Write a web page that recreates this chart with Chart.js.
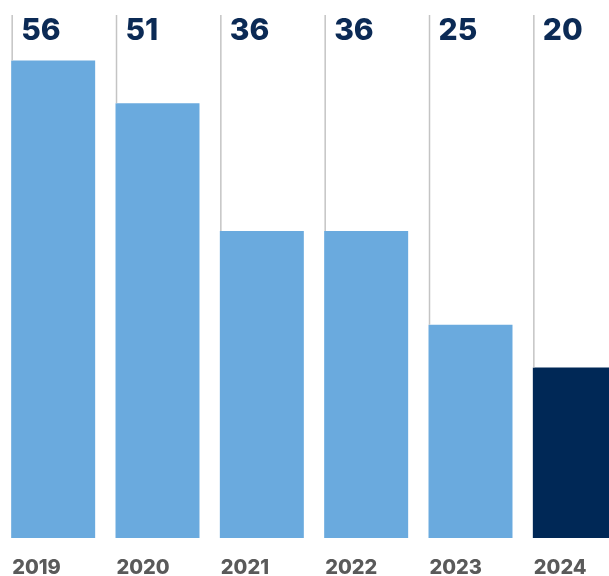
<!DOCTYPE html>
<html>
<head>
<meta charset="utf-8">
<script src="https://cdn.jsdelivr.net/npm/chart.js@4.4.1/dist/chart.umd.min.js"></script>
<style>
  html, body { margin: 0; padding: 0; background: #fff; overflow: hidden; }
  canvas { display: block; }
</style>
</head>
<body>
<canvas id="barChart" width="627" height="576"></canvas>
<script>
const years = ['2019', '2020', '2021', '2022', '2023', '2024'];
const counts = [56, 51, 36, 36, 25, 20];
const barColors = ['#6aaade', '#6aaade', '#6aaade', '#6aaade', '#6aaade', '#002856'];

// draws the thin gray guide lines, value labels on top and year labels below
const labelPlugin = {
  id: 'labels',
  afterDatasetsDraw(chart) {
    const { ctx } = chart;
    const meta = chart.getDatasetMeta(0);
    ctx.save();
    meta.data.forEach((bar, i) => {
      const left = bar.x - bar.width / 2;
      ctx.strokeStyle = '#c4c4c4';
      ctx.lineWidth = 1.5;
      ctx.beginPath();
      ctx.moveTo(left + 1, 15);
      ctx.lineTo(left + 1, bar.y);
      ctx.stroke();

      ctx.fillStyle = '#0b2a55';
      ctx.font = '800 30px Inter';
      ctx.textAlign = 'left';
      ctx.textBaseline = 'alphabetic';
      ctx.fillText(String(counts[i]), left + 10, 40);

      ctx.fillStyle = '#5a5a5a';
      ctx.font = '800 20px Inter';
      ctx.fillText(years[i], left + 1, 574);
    });
    ctx.restore();
  }
};

const chart = new Chart(document.getElementById('barChart'), {
  type: 'bar',
  data: {
    labels: years,
    datasets: [{
      data: counts,
      backgroundColor: barColors,
      borderWidth: 0,
      barPercentage: 0.805,
      categoryPercentage: 1
    }]
  },
  options: {
    responsive: false,
    animation: false,
    devicePixelRatio: 1,
    layout: { padding: { left: 1, right: 0, top: 0, bottom: 38 } },
    plugins: { legend: { display: false }, tooltip: { enabled: false } },
    scales: {
      x: { display: false },
      y: { display: false, min: 0, max: 63.1 }
    }
  },
  plugins: [labelPlugin]
});
</script>
</body>
</html>
